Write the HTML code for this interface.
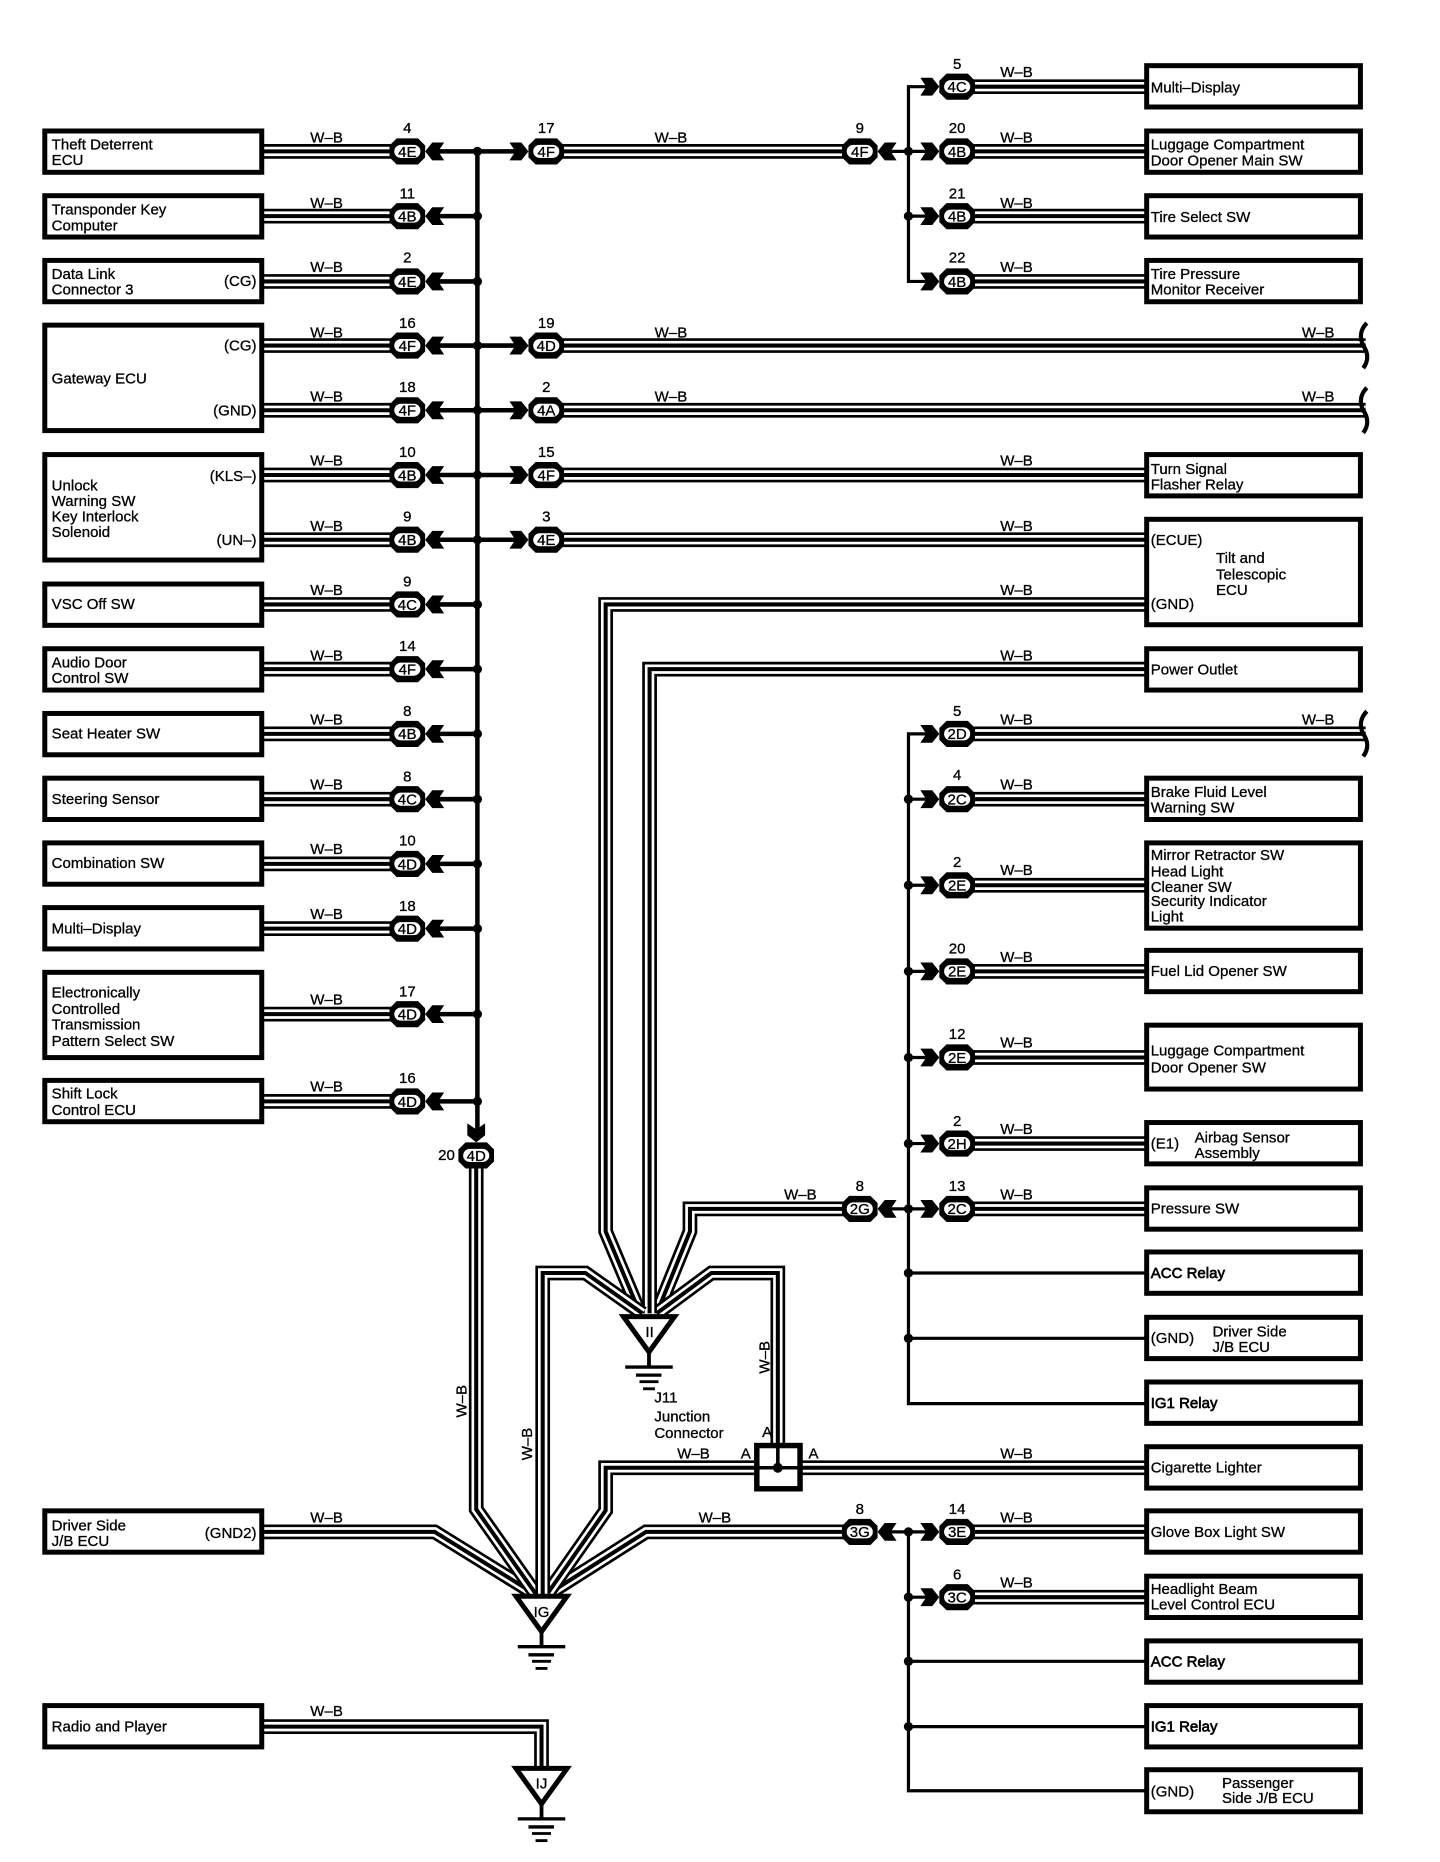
<!DOCTYPE html>
<html><head><meta charset="utf-8"><style>
html,body{margin:0;padding:0;background:#fff}
svg{display:block}
text{font-family:"Liberation Sans",sans-serif;font-size:12.65px;fill:#000;stroke:#000;stroke-width:.25}
.e{text-anchor:end}.b{stroke-width:.55}
.o{stroke:#000;stroke-width:12.4;fill:none}
.w{stroke:#fff;stroke-width:7.9;fill:none}
.i{stroke:#000;stroke-width:3.4;fill:none}
.l{stroke:#000;stroke-width:3.8;fill:none}
.s{stroke:#000;stroke-width:2.7;fill:none}
.r{fill:#fff;stroke:#000;stroke-width:4.2}
</style></head><body>
<svg xmlns="http://www.w3.org/2000/svg" width="1440" height="1862" viewBox="0 0 1212.6 1568">
<defs>
<g id="c"><path d="M-9 -11H9L15 -5V5L9 11H-9L-15 5V-5Z" fill="#000"/><rect x="-11" y="-5.500" width="22" height="11" rx="5.500" fill="#fff"/></g>
<path id="a" d="M0 0L6 -7.500H16L11 0L16 7.500H6Z" fill="#000"/>
<circle id="d" r="3.900" fill="#000"/>
<g id="g"><path d="M-21.500 2.200H21.500L0 32Z" fill="#fff" stroke="#000" stroke-width="4.200"/><path d="M0 32V44" stroke="#000" stroke-width="3.200"/><path d="M-20 44.700H20" stroke="#000" stroke-width="2.800"/><path d="M-11 51.500H10.500" stroke="#000" stroke-width="2.800"/><path d="M-8 57H8" stroke="#000" stroke-width="2.400"/><path d="M-5 63H5" stroke="#000" stroke-width="2.400"/></g>
<path id="t" d="M3 -19C-3 -13 -3 -6 0 0C4 6 5 12 0 19" fill="none" stroke="#000" stroke-width="3.600"/>
<path id="w" d="M221 127.500H343M221 182H343M221 237H343M221 291H343M221 345.500H343M221 400H343M221 454.500H343M221 509H343M221 563.500H343M221 618H343M221 673H343M221 727.500H343M221 782H343M221 854H343M221 927.500H343M460 127.500H724M806 73H964M806 127.500H964M806 182H964M806 237H964M460 291H1150M460 345.500H1150M460 400H964M460 454.500H964M806 618H1150M806 673H964M806 745.500H964M806 818H964M806 890.500H964M806 963H964M806 1018H964M675 1236H964M806 1290H964M806 1345H964M221 1454H456V1488"/>
<path id="p1" d="M964 509H510V1037L539 1106"/>
<path id="p2" d="M964 563.500H547V1106"/>
<path id="p3" d="M724 1018H581V1037L553 1106"/>
<path id="p4" d="M457 1345V1072H493L541 1106"/>
<path id="p5" d="M655 1220V1072H599L553 1106"/>
<path id="p6" d="M221 1290H366L450 1342"/>
<path id="p7" d="M401 973V1271L451 1342"/>
<path id="p8" d="M637 1236H510V1272L461 1342"/>
<path id="p9" d="M724 1290H544L462 1342"/>
</defs>

<use href="#w" class="o"/><use href="#w" class="w"/><use href="#w" class="i"/>
<use href="#p1" class="o"/><use href="#p1" class="w"/><use href="#p1" class="i"/>
<use href="#p3" class="o"/><use href="#p3" class="w"/><use href="#p3" class="i"/>
<use href="#p5" class="o"/><use href="#p5" class="w"/><use href="#p5" class="i"/>
<use href="#p2" class="o"/><use href="#p2" class="w"/><use href="#p2" class="i"/>
<use href="#p6" class="o"/><use href="#p6" class="w"/><use href="#p6" class="i"/>
<use href="#p9" class="o"/><use href="#p9" class="w"/><use href="#p9" class="i"/>
<use href="#p8" class="o"/><use href="#p8" class="w"/><use href="#p8" class="i"/>
<use href="#p7" class="o"/><use href="#p7" class="w"/><use href="#p7" class="i"/>
<use href="#p4" class="o"/><use href="#p4" class="w"/><use href="#p4" class="i"/>

<path class="l" d="M402 127.500V960M360 127.500H440M360 182H402M360 237H402M360 291H440M360 345.500H440M360 400H440M360 454.500H440M360 509H402M360 563.500H402M360 618H402M360 673H402M360 727.500H402M360 782H402M360 854H402M360 927.500H402"/>
<path class="s" d="M782 73H765V237H782M745 127.500H782M765 182H782"/>
<path class="s" d="M782 618H765V1182H964M765 673H782M765 745.500H782M765 818H782M765 890.500H782M765 963H782M745 1018H782M765 1072H964M765 1127H964"/>
<path class="s" d="M745 1290H782M765 1290V1508H964M765 1345H782M765 1399H964M765 1454H964"/>

<use href="#d" x="402" y="127.500"/><use href="#d" x="402" y="182"/><use href="#d" x="402" y="237"/><use href="#d" x="402" y="291"/><use href="#d" x="402" y="345.500"/><use href="#d" x="402" y="400"/><use href="#d" x="402" y="454.500"/><use href="#d" x="402" y="509"/><use href="#d" x="402" y="563.500"/><use href="#d" x="402" y="618"/><use href="#d" x="402" y="673"/><use href="#d" x="402" y="727.500"/><use href="#d" x="402" y="782"/><use href="#d" x="402" y="854"/><use href="#d" x="402" y="927.500"/>
<use href="#d" x="765" y="127.500"/><use href="#d" x="765" y="182"/><use href="#d" x="765" y="673"/><use href="#d" x="765" y="745.500"/><use href="#d" x="765" y="818"/><use href="#d" x="765" y="890.500"/><use href="#d" x="765" y="963"/><use href="#d" x="765" y="1018"/><use href="#d" x="765" y="1072"/><use href="#d" x="765" y="1127"/><use href="#d" x="765" y="1290"/><use href="#d" x="765" y="1345"/><use href="#d" x="765" y="1399"/><use href="#d" x="765" y="1454"/>

<use href="#a" x="358" y="127.500"/><use href="#a" x="358" y="182"/><use href="#a" x="358" y="237"/><use href="#a" x="358" y="291"/><use href="#a" x="358" y="345.500"/><use href="#a" x="358" y="400"/><use href="#a" x="358" y="454.500"/><use href="#a" x="358" y="509"/><use href="#a" x="358" y="563.500"/><use href="#a" x="358" y="618"/><use href="#a" x="358" y="673"/><use href="#a" x="358" y="727.500"/><use href="#a" x="358" y="782"/><use href="#a" x="358" y="854"/><use href="#a" x="358" y="927.500"/>
<use href="#a" x="739" y="127.500"/><use href="#a" x="739" y="1018"/><use href="#a" x="739" y="1290"/>
<use href="#a" transform="translate(445 127.500) scale(-1 1)"/><use href="#a" transform="translate(445 291) scale(-1 1)"/><use href="#a" transform="translate(445 345.500) scale(-1 1)"/><use href="#a" transform="translate(445 400) scale(-1 1)"/><use href="#a" transform="translate(445 454.500) scale(-1 1)"/>
<use href="#a" transform="translate(791 73) scale(-1 1)"/><use href="#a" transform="translate(791 127.500) scale(-1 1)"/><use href="#a" transform="translate(791 182) scale(-1 1)"/><use href="#a" transform="translate(791 237) scale(-1 1)"/><use href="#a" transform="translate(791 618) scale(-1 1)"/><use href="#a" transform="translate(791 673) scale(-1 1)"/><use href="#a" transform="translate(791 745.500) scale(-1 1)"/><use href="#a" transform="translate(791 818) scale(-1 1)"/><use href="#a" transform="translate(791 890.500) scale(-1 1)"/><use href="#a" transform="translate(791 963) scale(-1 1)"/><use href="#a" transform="translate(791 1018) scale(-1 1)"/><use href="#a" transform="translate(791 1290) scale(-1 1)"/><use href="#a" transform="translate(791 1345) scale(-1 1)"/>
<use href="#a" transform="translate(401 962) rotate(-90)"/>

<use href="#c" x="343" y="127.500"/><use href="#c" x="343" y="182"/><use href="#c" x="343" y="237"/><use href="#c" x="343" y="291"/><use href="#c" x="343" y="345.500"/><use href="#c" x="343" y="400"/><use href="#c" x="343" y="454.500"/><use href="#c" x="343" y="509"/><use href="#c" x="343" y="563.500"/><use href="#c" x="343" y="618"/><use href="#c" x="343" y="673"/><use href="#c" x="343" y="727.500"/><use href="#c" x="343" y="782"/><use href="#c" x="343" y="854"/><use href="#c" x="343" y="927.500"/>
<use href="#c" x="460" y="127.500"/><use href="#c" x="460" y="291"/><use href="#c" x="460" y="345.500"/><use href="#c" x="460" y="400"/><use href="#c" x="460" y="454.500"/>
<use href="#c" x="724" y="127.500"/><use href="#c" x="724" y="1018"/><use href="#c" x="724" y="1290"/>
<use href="#c" x="806" y="73"/><use href="#c" x="806" y="127.500"/><use href="#c" x="806" y="182"/><use href="#c" x="806" y="237"/><use href="#c" x="806" y="618"/><use href="#c" x="806" y="673"/><use href="#c" x="806" y="745.500"/><use href="#c" x="806" y="818"/><use href="#c" x="806" y="890.500"/><use href="#c" x="806" y="963"/><use href="#c" x="806" y="1018"/><use href="#c" x="806" y="1290"/><use href="#c" x="806" y="1345"/>
<use href="#c" x="401" y="973"/>

<use href="#t" x="1148" y="291"/><use href="#t" x="1148" y="345.500"/><use href="#t" x="1148" y="618"/>

<use href="#g" x="546.500" y="1106.500"/><use href="#g" x="456" y="1342"/><use href="#g" x="456" y="1487"/>

<rect class="r" x="37.700" y="110.300" width="182.700" height="34.800"/><rect class="r" x="37.700" y="164.800" width="182.700" height="34.800"/><rect class="r" x="37.700" y="219.300" width="182.700" height="34.800"/><rect class="r" x="37.700" y="273.800" width="182.700" height="88.800"/><rect class="r" x="37.700" y="382.800" width="182.700" height="88.800"/><rect class="r" x="37.700" y="491.800" width="182.700" height="34.800"/><rect class="r" x="37.700" y="546.300" width="182.700" height="34.800"/><rect class="r" x="37.700" y="600.800" width="182.700" height="34.800"/><rect class="r" x="37.700" y="655.300" width="182.700" height="34.800"/><rect class="r" x="37.700" y="709.800" width="182.700" height="34.800"/><rect class="r" x="37.700" y="764.300" width="182.700" height="34.800"/><rect class="r" x="37.700" y="818.800" width="182.700" height="71.800"/><rect class="r" x="37.700" y="909.800" width="182.700" height="34.800"/><rect class="r" x="37.700" y="1272.300" width="182.700" height="34.800"/><rect class="r" x="37.700" y="1436.300" width="182.700" height="34.800"/>
<rect class="r" x="965.600" y="55.300" width="180" height="34.800"/><rect class="r" x="965.600" y="110.300" width="180" height="34.800"/><rect class="r" x="965.600" y="164.800" width="180" height="34.800"/><rect class="r" x="965.600" y="219.300" width="180" height="34.800"/><rect class="r" x="965.600" y="382.800" width="180" height="34.800"/><rect class="r" x="965.600" y="437.300" width="180" height="88.800"/><rect class="r" x="965.600" y="546.300" width="180" height="34.800"/><rect class="r" x="965.600" y="655.300" width="180" height="34.800"/><rect class="r" x="965.600" y="709.800" width="180" height="71.800"/><rect class="r" x="965.600" y="800.300" width="180" height="34.800"/><rect class="r" x="965.600" y="863.300" width="180" height="53.800"/><rect class="r" x="965.600" y="945.300" width="180" height="34.800"/><rect class="r" x="965.600" y="1000.300" width="180" height="34.800"/><rect class="r" x="965.600" y="1054.300" width="180" height="34.800"/><rect class="r" x="965.600" y="1109.300" width="180" height="34.800"/><rect class="r" x="965.600" y="1163.800" width="180" height="34.800"/><rect class="r" x="965.600" y="1218.300" width="180" height="34.800"/><rect class="r" x="965.600" y="1272.300" width="180" height="34.800"/><rect class="r" x="965.600" y="1327.300" width="180" height="34.800"/><rect class="r" x="965.600" y="1381.800" width="180" height="34.800"/><rect class="r" x="965.600" y="1436.300" width="180" height="34.800"/><rect class="r" x="965.600" y="1490.300" width="180" height="35.400"/>

<rect x="637.300" y="1217.300" width="36.400" height="36.400" fill="#fff" stroke="#000" stroke-width="4.600"/>
<path d="M637 1236H674M655 1217V1236" stroke="#000" stroke-width="3" fill="none"/>
<circle cx="655" cy="1236" r="4.200" fill="#000"/>

<text x="43.500" y="126">Theft Deterrent</text><text x="43.500" y="139">ECU</text>
<text x="43.500" y="180.500">Transponder Key</text><text x="43.500" y="194">Computer</text>
<text x="43.500" y="235">Data Link</text><text x="43.500" y="248">Connector 3</text><text class="e" x="216" y="241">(CG)</text>
<text class="e" x="216" y="295">(CG)</text><text x="43.500" y="323">Gateway ECU</text><text class="e" x="216" y="350">(GND)</text>
<text x="43.500" y="413">Unlock</text><text x="43.500" y="426">Warning SW</text><text x="43.500" y="439">Key Interlock</text><text x="43.500" y="452">Solenoid</text><text class="e" x="216" y="405">(KLS–)</text><text class="e" x="216" y="459">(UN–)</text>
<text x="43.500" y="513">VSC Off SW</text>
<text x="43.500" y="562">Audio Door</text><text x="43.500" y="575">Control SW</text>
<text x="43.500" y="622">Seat Heater SW</text>
<text x="43.500" y="677">Steering Sensor</text>
<text x="43.500" y="731">Combination SW</text>
<text x="43.500" y="786">Multi–Display</text>
<text x="43.500" y="840">Electronically</text><text x="43.500" y="854">Controlled</text><text x="43.500" y="867">Transmission</text><text x="43.500" y="881">Pattern Select SW</text>
<text x="43.500" y="925">Shift Lock</text><text x="43.500" y="939">Control ECU</text>
<text x="43.500" y="1289">Driver Side</text><text x="43.500" y="1302">J/B ECU</text><text class="e" x="216" y="1295">(GND2)</text>
<text x="43.500" y="1458">Radio and Player</text>

<text x="969" y="78">Multi–Display</text>
<text x="969" y="126">Luggage Compartment</text><text x="969" y="139.500">Door Opener Main SW</text>
<text x="969" y="187">Tire Select SW</text>
<text x="969" y="235">Tire Pressure</text><text x="969" y="248">Monitor Receiver</text>
<text x="969" y="399">Turn Signal</text><text x="969" y="412">Flasher Relay</text>
<text x="969" y="459">(ECUE)</text><text x="1024" y="474">Tilt and</text><text x="1024" y="488">Telescopic</text><text x="1024" y="501">ECU</text><text x="969" y="513">(GND)</text>
<text x="969" y="568">Power Outlet</text>
<text x="969" y="671">Brake Fluid Level</text><text x="969" y="684">Warning SW</text>
<text x="969" y="724">Mirror Retractor SW</text><text x="969" y="738">Head Light</text><text x="969" y="751">Cleaner SW</text><text x="969" y="763">Security Indicator</text><text x="969" y="776">Light</text>
<text x="969" y="822">Fuel Lid Opener SW</text>
<text x="969" y="889">Luggage Compartment</text><text x="969" y="903">Door Opener SW</text>
<text x="969" y="967">(E1)</text><text x="1006" y="962">Airbag Sensor</text><text x="1006" y="975">Assembly</text>
<text x="969" y="1022">Pressure SW</text>
<text class="b" x="969" y="1076">ACC Relay</text>
<text x="969" y="1131">(GND)</text><text x="1021" y="1125.500">Driver Side</text><text x="1021" y="1138.500">J/B ECU</text>
<text class="b" x="969" y="1185.500">IG1 Relay</text>
<text x="969" y="1240">Cigarette Lighter</text>
<text x="969" y="1294.500">Glove Box Light SW</text>
<text x="969" y="1342.500">Headlight Beam</text><text x="969" y="1355.500">Level Control ECU</text>
<text class="b" x="969" y="1403.500">ACC Relay</text>
<text class="b" x="969" y="1458">IG1 Relay</text>
<text x="969" y="1513">(GND)</text><text x="1029" y="1505.500">Passenger</text><text x="1029" y="1518.500">Side J/B ECU</text>

<g text-anchor="middle">
<text x="343" y="132">4E</text><text x="343" y="186.500">4B</text><text x="343" y="241.500">4E</text><text x="343" y="295.500">4F</text><text x="343" y="350">4F</text><text x="343" y="404.500">4B</text><text x="343" y="459">4B</text><text x="343" y="513.500">4C</text><text x="343" y="568">4F</text><text x="343" y="622.500">4B</text><text x="343" y="677.500">4C</text><text x="343" y="732">4D</text><text x="343" y="786.500">4D</text><text x="343" y="858.500">4D</text><text x="343" y="932">4D</text>
<text x="460" y="132">4F</text><text x="460" y="295.500">4D</text><text x="460" y="350">4A</text><text x="460" y="404.500">4F</text><text x="460" y="459">4E</text>
<text x="724" y="132">4F</text><text x="724" y="1022.500">2G</text><text x="724" y="1294.500">3G</text>
<text x="806" y="77.500">4C</text><text x="806" y="132">4B</text><text x="806" y="186.500">4B</text><text x="806" y="241.500">4B</text><text x="806" y="622.500">2D</text><text x="806" y="677.500">2C</text><text x="806" y="750">2E</text><text x="806" y="822.500">2E</text><text x="806" y="895">2E</text><text x="806" y="967.500">2H</text><text x="806" y="1022.500">2C</text><text x="806" y="1294.500">3E</text><text x="806" y="1349.500">3C</text>
<text x="401" y="977.500">4D</text>

<text x="343" y="112">4</text><text x="343" y="167">11</text><text x="343" y="221">2</text><text x="343" y="276">16</text><text x="343" y="330">18</text><text x="343" y="385">10</text><text x="343" y="439">9</text><text x="343" y="494">9</text><text x="343" y="548">14</text><text x="343" y="603">8</text><text x="343" y="658">8</text><text x="343" y="712">10</text><text x="343" y="767">18</text><text x="343" y="839">17</text><text x="343" y="912">16</text>
<text x="460" y="112">17</text><text x="460" y="276">19</text><text x="460" y="330">2</text><text x="460" y="385">15</text><text x="460" y="439">3</text>
<text x="724" y="112">9</text><text x="724" y="1003">8</text><text x="724" y="1275">8</text>
<text x="806" y="58">5</text><text x="806" y="112">20</text><text x="806" y="167">21</text><text x="806" y="221">22</text><text x="806" y="603">5</text><text x="806" y="657">4</text><text x="806" y="730">2</text><text x="806" y="803">20</text><text x="806" y="875">12</text><text x="806" y="948">2</text><text x="806" y="1003">13</text><text x="806" y="1275">14</text><text x="806" y="1330">6</text>
<text x="376" y="977">20</text>

<text x="275" y="120">W–B</text><text x="275" y="175">W–B</text><text x="275" y="229">W–B</text><text x="275" y="284">W–B</text><text x="275" y="338">W–B</text><text x="275" y="392">W–B</text><text x="275" y="447">W–B</text><text x="275" y="501">W–B</text><text x="275" y="556">W–B</text><text x="275" y="610">W–B</text><text x="275" y="665">W–B</text><text x="275" y="719">W–B</text><text x="275" y="774">W–B</text><text x="275" y="846">W–B</text><text x="275" y="919">W–B</text><text x="275" y="1282">W–B</text><text x="275" y="1445">W–B</text>
<text x="565" y="120">W–B</text><text x="565" y="284">W–B</text><text x="565" y="338">W–B</text>
<text x="856" y="65">W–B</text><text x="856" y="120">W–B</text><text x="856" y="175">W–B</text><text x="856" y="229">W–B</text><text x="856" y="392">W–B</text><text x="856" y="447">W–B</text><text x="856" y="501">W–B</text><text x="856" y="556">W–B</text><text x="856" y="610">W–B</text><text x="856" y="665">W–B</text><text x="856" y="737">W–B</text><text x="856" y="810">W–B</text><text x="856" y="882">W–B</text><text x="856" y="955">W–B</text><text x="856" y="1010">W–B</text><text x="856" y="1228">W–B</text><text x="856" y="1282">W–B</text><text x="856" y="1337">W–B</text>
<text x="1110" y="284">W–B</text><text x="1110" y="338">W–B</text><text x="1110" y="610">W–B</text>
<text x="674" y="1010">W–B</text><text x="584" y="1228">W–B</text><text x="602" y="1282">W–B</text>
<text transform="translate(393 1180) rotate(-90)">W–B</text><text transform="translate(448 1216) rotate(-90)">W–B</text><text transform="translate(648 1143) rotate(-90)">W–B</text>
<text x="628" y="1228">A</text><text x="646" y="1210">A</text><text x="685" y="1228">A</text>
<text x="547" y="1126">II</text><text x="456" y="1361.500">IG</text><text x="456" y="1506">IJ</text>
</g>
<text x="551" y="1181">J11</text><text x="551" y="1197">Junction</text><text x="551" y="1211">Connector</text>
</svg>
</body></html>
